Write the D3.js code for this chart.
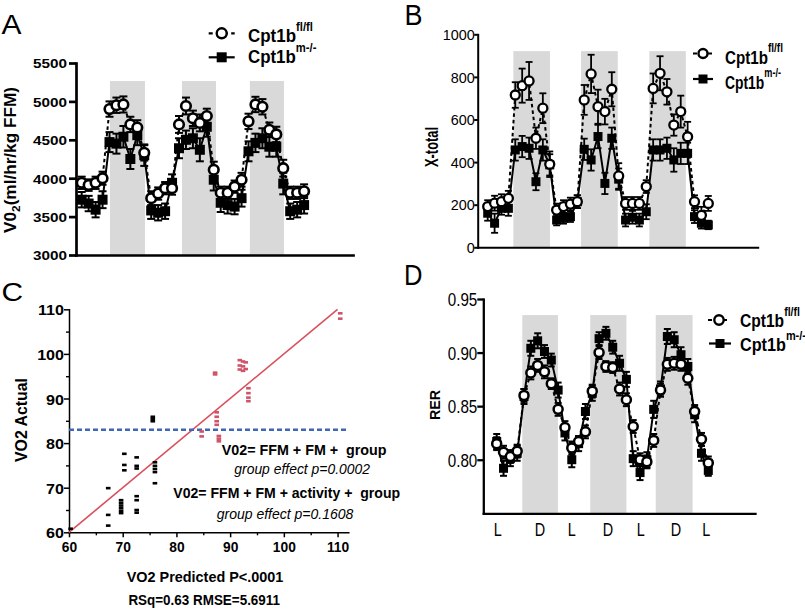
<!DOCTYPE html>
<html><head><meta charset="utf-8">
<script src="https://cdn.jsdelivr.net/npm/d3@7/dist/d3.min.js"></script>
<style>
html,body{margin:0;padding:0;background:#fff;}
svg text{white-space:pre;}
</style></head><body>
<svg id="fig" width="805" height="610"></svg>
<script>
// ---------------- DATA ----------------
// Panel A : VO2 (ml/hr/kg FFM), 33 time bins
const vo2Fl    = [3940,3910,3940,4000,4900,4950,4960,4700,4660,4330,3740,3800,3870,3870,4700,4940,4780,4720,4810,4110,3810,3810,3890,3980,4740,4960,4930,4630,4570,4130,3810,3810,3830];
const vo2FlErr = [80,75,80,85,100,100,105,100,95,100,90,80,80,85,110,110,100,110,95,105,80,80,80,90,100,100,100,95,100,110,80,80,90];
const vo2M     = [3720,3670,3590,3720,4470,4450,4540,4250,4560,4300,3580,3550,3570,3940,4390,4500,4520,4370,4670,3980,3680,3650,3630,3740,4350,4460,4520,4410,4410,3930,3570,3590,3650];
const vo2MErr  = [100,100,100,110,130,130,140,130,130,140,110,100,100,110,130,120,130,150,130,140,120,110,100,110,130,120,130,130,130,140,100,100,110];
const darkA    = [[4.07,9.1],[14.43,19.32],[24.2,29.1]];
const vo2Ticks = [3000,3500,4000,4500,5000,5500];

// Panel B : X-total activity
const xtotFl    = [191,207,214,230,715,759,781,512,653,390,175,191,203,214,692,814,660,637,742,335,206,206,206,285,746,817,730,574,637,519,214,150,206];
const xtotFlErr = [30,35,35,35,60,80,89,50,70,60,30,30,30,30,70,90,80,60,80,60,30,30,30,30,70,80,60,50,75,70,30,40,35];
const xtotM     = [160,113,183,183,457,473,465,308,457,387,128,136,144,214,460,410,520,300,512,320,128,141,128,167,457,457,465,410,441,441,144,113,105];
const xtotMErr  = [35,45,30,35,50,50,50,40,50,50,25,25,25,30,50,50,55,50,50,50,30,30,30,35,50,50,50,55,50,50,30,25,20];
const darkB     = [[3.72,9.04],[13.54,18.87],[23.45,28.74]];
const xtotTicks = [0,200,400,600,800,1000];

// Panel D : RER, 32 time bins
const rerFl    = [0.815,0.807,0.803,0.808,0.860,0.881,0.888,0.882,0.871,0.847,0.830,0.811,0.817,0.826,0.864,0.900,0.887,0.886,0.866,0.856,0.831,0.800,0.798,0.818,0.865,0.889,0.890,0.889,0.876,0.845,0.819,0.797];
const rerFlErr = [0.006,0.006,0.006,0.006,0.006,0.006,0.006,0.006,0.005,0.006,0.006,0.006,0.005,0.006,0.006,0.006,0.005,0.005,0.006,0.006,0.006,0.006,0.006,0.006,0.006,0.006,0.006,0.006,0.006,0.006,0.006,0.006];
const rerM     = [0.817,0.792,0.801,0.806,0.859,0.904,0.911,0.901,0.893,0.865,0.825,0.800,0.815,0.845,0.862,0.913,0.918,0.905,0.890,0.875,0.801,0.788,0.800,0.847,0.866,0.915,0.912,0.898,0.887,0.842,0.806,0.790];
const rerMErr  = [0.007,0.007,0.007,0.007,0.007,0.007,0.007,0.006,0.006,0.007,0.007,0.007,0.007,0.007,0.007,0.006,0.006,0.006,0.007,0.007,0.007,0.007,0.007,0.008,0.007,0.007,0.007,0.007,0.007,0.007,0.007,0.005];
const darkD    = [[3.75,8.97],[13.7,19.0],[23.3,28.7]];
const rerTicks = [0.80,0.85,0.90,0.95];
const phaseLabels = ["L","D","L","D","L","D","L"];
const phasePos    = [0.15,6.34,11.0,16.3,21.1,26.25,30.7];

// Panel C : VO2 actual vs predicted
const cPredBlack = [60.3,67.3,67.3,67.3,69.7,69.7,69.7,69.7,69.7,69.7,70.3,70.3,70.3,72.6,72.6,72.6,72.6,72.6,72.6,72.6,75.6,75.6,75.6,76.0,76.0,76.0,76.0,76.0];
const cActBlack  = [60.8,69.9,63.9,61.5,67.2,66.6,66.0,65.4,64.8,64.3,77.6,75.1,73.9,76.8,74.9,74.3,68.1,67.2,65.0,64.4,85.9,85.4,84.9,75.7,74.9,74.2,73.5,71.0];
const cPredRed   = [84.7,84.7,87.2,87.2,87.5,87.5,87.5,87.5,87.9,87.9,87.9,91.8,91.8,91.8,92.4,92.4,92.4,92.9,92.9,93.4,93.4,93.4,93.4,110.5,110.5];
const cActRed    = [82.6,81.5,95.8,95.4,86.9,85.9,84.9,84.1,81.6,81.0,80.4,98.6,97.4,96.5,98.3,97.2,96.2,98.1,96.6,92.3,91.2,90.2,89.4,109.1,107.9];
const cMajorTicks = [60,70,80,90,100,110];
const cMinorTicks = [65,75,85,95,105];
const cIdentity   = [60,110];
const cMean       = 83;

const seriesNames = [{name:"Cpt1b", sup:"fl/fl"}, {name:"Cpt1b", sup:"m-/-"}];

// ---------------- HELPERS ----------------
const FONT = '"Liberation Sans", Arial, Helvetica, sans-serif';
const svg = d3.select('#fig');
svg.append('rect').attr('width',805).attr('height',610).attr('fill','#fff');

function addText(parent, o) {
  const t = parent.append('text')
    .attr('font-family', FONT)
    .attr('font-size', o.size)
    .attr('font-weight', o.weight || 'normal')
    .attr('font-style', o.style || 'normal')
    .attr('text-anchor', o.anchor || 'start')
    .attr('fill', o.fill || '#000');
  if (o.parts) {
    o.parts.forEach(pt => {
      const ts = t.append('tspan').text(pt.t);
      if (pt.size) ts.attr('font-size', pt.size);
      if (pt.dy) ts.attr('dy', pt.dy);
    });
  } else t.text(o.text);
  let sx = 1;
  if (o.width) { const w = t.node().getComputedTextLength(); if (w > 0) sx = o.width / w; }
  if (o.sx) sx = o.sx;
  t.attr('transform', `translate(${o.x},${o.y})` + (o.rotate ? ` rotate(${o.rotate})` : '') + ` scale(${sx},1)`);
  return t;
}

function styleAxis(g, o) {
  g.attr('font-family', FONT).attr('font-size', o.size).attr('font-weight', o.weight || 'normal');
  g.select('.domain').attr('stroke-width', o.aw).attr('stroke-linecap','square');
  g.selectAll('.tick line').attr('stroke-width', o.tw || o.aw);
  const texts = g.selectAll('.tick text');
  let sx = 1;
  if (o.ref) texts.each(function(){ if (this.textContent === o.ref) sx = o.refW / this.getComputedTextLength(); });
  if (o.left) texts.attr('x', 0).attr('dy','0.36em').attr('transform', `translate(${-o.pad},0) scale(${sx},1)`);
  else texts.attr('y', o.pad).attr('dy', 0).attr('transform', `scale(${sx},1)`);
}

function legendSymbol(g, shape, cx, cy, half, r, sq) {
  g.append('line').attr('x1', cx-half).attr('x2', cx+half).attr('y1', cy).attr('y2', cy)
    .attr('stroke','#000').attr('stroke-width',2.2).attr('stroke-dasharray', shape==='circle' ? '4,3.5' : null);
  if (shape === 'circle')
    g.append('circle').attr('cx',cx).attr('cy',cy).attr('r',r).attr('fill','#fff').attr('stroke','#000').attr('stroke-width',2.4);
  else
    g.append('rect').attr('x',cx-sq/2).attr('y',cy-sq/2).attr('width',sq).attr('height',sq).attr('fill','#000');
}

function tsPanel(p) {
  const g = svg.append('g');
  const x = d3.scaleLinear().domain([0, p.fl.length-1]).range(p.xr);
  const y = d3.scaleLinear().domain(p.yd).range(p.yr);
  g.selectAll('rect.band').data(p.bands).join('rect').attr('class','band')
    .attr('x', d => x(d[0])).attr('width', d => x(d[1]) - x(d[0]))
    .attr('y', y(p.bandTop)).attr('height', y(p.yd[0]) - y(p.bandTop)).attr('fill', '#d9d9d9');
  const series = [
    {v:p.m, e:p.mErr, dash:null, shape:'sq'},
    {v:p.fl, e:p.flErr, dash:'3.5,3', shape:'circle'}
  ];
  series.forEach(s => {
    const line = d3.line().x((d,i) => x(i)).y(d => y(d));
    g.append('path').attr('d', line(s.v)).attr('fill','none').attr('stroke','#000')
      .attr('stroke-width', p.lw).attr('stroke-dasharray', s.dash);
    const eb = g.append('g').attr('stroke','#000').attr('stroke-width', p.ew);
    s.v.forEach((v,i) => {
      const xi = x(i), yt = y(v + s.e[i]), yb = y(v - s.e[i]);
      eb.append('line').attr('x1',xi).attr('x2',xi).attr('y1',yt).attr('y2',yb);
      eb.append('line').attr('x1',xi-p.cap/2).attr('x2',xi+p.cap/2).attr('y1',yt).attr('y2',yt);
      eb.append('line').attr('x1',xi-p.cap/2).attr('x2',xi+p.cap/2).attr('y1',yb).attr('y2',yb);
    });
    if (s.shape === 'sq')
      g.append('g').selectAll('rect').data(s.v).join('rect')
        .attr('x',(d,i) => x(i)-p.sq/2).attr('y', d => y(d)-p.sq/2).attr('width',p.sq).attr('height',p.sq).attr('fill','#000');
    else
      g.append('g').selectAll('circle').data(s.v).join('circle')
        .attr('cx',(d,i) => x(i)).attr('cy', d => y(d)).attr('r', p.r)
        .attr('fill','#fff').attr('stroke','#000').attr('stroke-width',p.cw);
  });
  const ya = g.append('g').attr('transform',`translate(${p.axX[0]},0)`)
    .call(d3.axisLeft(y).tickValues(p.ticks).tickSize(p.tickLen).tickSizeOuter(0).tickFormat(p.fmt || d3.format('d')));
  styleAxis(ya, Object.assign({left:true}, p.tickStyle));
  const xAxScale = d3.scaleLinear().domain([x.invert(p.axX[0]), x.invert(p.axX[1])]).range(p.axX);
  const xa = g.append('g').attr('transform',`translate(0,${p.yr[0]})`)
    .call(d3.axisBottom(xAxScale).tickValues([]).tickSizeOuter(0));
  xa.select('.domain').attr('stroke-width', p.tickStyle.aw).attr('stroke-linecap','square');
  return {g, x, y};
}

// ---------------- PANEL A ----------------
tsPanel({fl:vo2Fl, flErr:vo2FlErr, m:vo2M, mErr:vo2MErr, bands:darkA, bandTop:5265,
  xr:[81.7,304.1], axX:[76,353], yd:[3000,5500], yr:[255,63], ticks:vo2Ticks, tickLen:7,
  tickStyle:{size:13.5, weight:'bold', aw:2.7, ref:'5500', refW:34, pad:9},
  r:4.8, cw:2.6, sq:10, lw:2, ew:2, cap:8});
addText(svg, {x:16, y:160, rotate:-90, anchor:'middle', size:16, weight:'bold', width:146,
  parts:[{t:'V0'},{t:'2', size:11, dy:4},{t:'(ml/hr/kg FFM)', dy:-4}]});
{
  const lg = svg.append('g');
  legendSymbol(lg,'circle',221.7,33.3,13,5,10);
  legendSymbol(lg,'sq',221.7,57.3,13,5,10);
  addText(lg,{x:248,y:41.5,size:18,weight:'bold',width:65,parts:[{t:seriesNames[0].name},{t:seriesNames[0].sup,size:12,dy:-11}]});
  addText(lg,{x:248,y:63.3,size:18,weight:'bold',width:68.5,parts:[{t:seriesNames[1].name},{t:seriesNames[1].sup,size:12,dy:-11}]});
}
addText(svg,{x:1.5,y:33.5,size:28,text:'A',width:20});

// ---------------- PANEL B ----------------
tsPanel({fl:xtotFl, flErr:xtotFlErr, m:xtotM, mErr:xtotMErr, bands:darkB, bandTop:921,
  xr:[487.7,708.3], axX:[477.7,757.7], yd:[0,1000], yr:[247.3,34.3], ticks:xtotTicks, tickLen:3.5,
  tickStyle:{size:14.5, weight:'normal', aw:2, ref:'1000', refW:32, pad:3},
  r:4.5, cw:2.3, sq:9, lw:2, ew:1.8, cap:7});
addText(svg,{x:438,y:147,rotate:-90,anchor:'middle',size:19,weight:'bold',text:'X-total',width:40});
{
  const lg = svg.append('g');
  legendSymbol(lg,'circle',703,53.5,10,4.5,9);
  legendSymbol(lg,'sq',703,79,10,4.5,9);
  addText(lg,{x:725,y:64.3,size:19,weight:'bold',width:58,parts:[{t:seriesNames[0].name},{t:seriesNames[0].sup,size:12.5,dy:-12}]});
  addText(lg,{x:725,y:89.3,size:19,weight:'bold',width:56,parts:[{t:seriesNames[1].name},{t:seriesNames[1].sup,size:12.5,dy:-12}]});
}
addText(svg,{x:404.5,y:25,size:29,text:'B',width:18});

// ---------------- PANEL D ----------------
const pd = tsPanel({fl:rerFl, flErr:rerFlErr, m:rerM, mErr:rerMErr, bands:darkD, bandTop:0.935,
  xr:[496.7,708.3], axX:[483.3,755], yd:[0.75,0.95], yr:[513.3,299], ticks:rerTicks, tickLen:6,
  fmt:d3.format('.2f'),
  tickStyle:{size:18, weight:'normal', aw:2.3, ref:'0.95', refW:29.6, pad:6},
  r:4.5, cw:2.5, sq:9, lw:2, ew:2, cap:7});
phaseLabels.forEach((lab,i) => {
  addText(svg,{x:pd.x(phasePos[i]), y:536, size:19, anchor:'middle', text:lab, sx:0.76});
});
addText(svg,{x:440,y:405,rotate:-90,anchor:'middle',size:14,weight:'bold',text:'RER',width:30});
{
  const lg = svg.append('g');
  legendSymbol(lg,'circle',719,320,11,4.7,9);
  legendSymbol(lg,'sq',720,343.5,11,4.7,9);
  addText(lg,{x:740,y:327,size:18.5,weight:'bold',width:60,parts:[{t:seriesNames[0].name},{t:seriesNames[0].sup,size:12.5,dy:-11}]});
  addText(lg,{x:740,y:351,size:18.5,weight:'bold',width:66,parts:[{t:seriesNames[1].name},{t:seriesNames[1].sup,size:12.5,dy:-11}]});
}
addText(svg,{x:404,y:285,size:29,text:'D',width:18.5});

// ---------------- PANEL C ----------------
{
  const g = svg.append('g');
  const xC = d3.scaleLinear().domain([60,112]).range([69,348.3]);
  const yC = d3.scaleLinear().domain([60,110]).range([532.3,309.3]);
  const yMin = g.append('g').attr('transform','translate(69,0)')
    .call(d3.axisLeft(yC).tickValues(cMinorTicks).tickSize(3).tickSizeOuter(0).tickFormat(''));
  yMin.select('.domain').remove(); yMin.selectAll('line').attr('stroke-width',1.4);
  const xMin = g.append('g').attr('transform','translate(0,532.3)')
    .call(d3.axisBottom(xC).tickValues(cMinorTicks).tickSize(3).tickSizeOuter(0).tickFormat(''));
  xMin.select('.domain').remove(); xMin.selectAll('line').attr('stroke-width',1.4);
  const ya = g.append('g').attr('transform','translate(69,0)')
    .call(d3.axisLeft(yC).tickValues(cMajorTicks).tickSize(5).tickSizeOuter(0));
  styleAxis(ya,{left:true,size:15.5,weight:'bold',aw:1.5,pad:5,ref:'110',refW:26});
  const xa = g.append('g').attr('transform','translate(0,532.3)')
    .call(d3.axisBottom(xC).tickValues(cMajorTicks).tickSize(5).tickSizeOuter(0));
  styleAxis(xa,{left:false,size:15.5,weight:'bold',aw:1.5,pad:19.6,ref:'100',refW:23});
  g.append('path').attr('d', d3.line().x(d => xC(d)).y(d => yC(d))(cIdentity))
    .attr('stroke','#d9505c').attr('stroke-width',1.6).attr('fill','none');
  g.append('line').attr('x1',xC(60)).attr('x2',xC(112)).attr('y1',yC(cMean)).attr('y2',yC(cMean))
    .attr('stroke','#3f66b0').attr('stroke-width',2.5).attr('stroke-dasharray','5,3');
  g.append('g').selectAll('rect').data(cPredBlack).join('rect')
    .attr('x',d => xC(d)-2.3).attr('y',(d,i) => yC(cActBlack[i])-1.3).attr('width',4.6).attr('height',2.6).attr('fill','#000');
  g.append('g').selectAll('rect').data(cPredRed).join('rect')
    .attr('x',d => xC(d)-2.3).attr('y',(d,i) => yC(cActRed[i])-1.3).attr('width',4.6).attr('height',2.6).attr('fill','#cf5468');
  addText(g,{x:221.7,y:455,size:15.5,weight:'bold',text:'V02= FFM + FM +  group',width:165});
  addText(g,{x:234.3,y:474.3,size:15.5,style:'italic',text:'group effect p=0.0002',width:135.7});
  addText(g,{x:173.3,y:498.3,size:15.5,weight:'bold',text:'V02= FFM + FM + activity +  group',width:227});
  addText(g,{x:216.7,y:519.3,size:15.5,style:'italic',text:'group effect p=0.1608',width:136.7});
  addText(g,{x:205,y:581.7,size:15.5,weight:'bold',anchor:'middle',text:'VO2 Predicted P<.0001',width:156.7});
  addText(g,{x:204.2,y:605,size:15.5,weight:'bold',anchor:'middle',text:'RSq=0.63 RMSE=5.6911',width:151.7});
  addText(g,{x:26.5,y:420,rotate:-90,anchor:'middle',size:17,weight:'bold',text:'VO2 Actual',width:84});
}
addText(svg,{x:1.5,y:301,size:26,text:'C',width:21.6});
</script>
</body></html>
